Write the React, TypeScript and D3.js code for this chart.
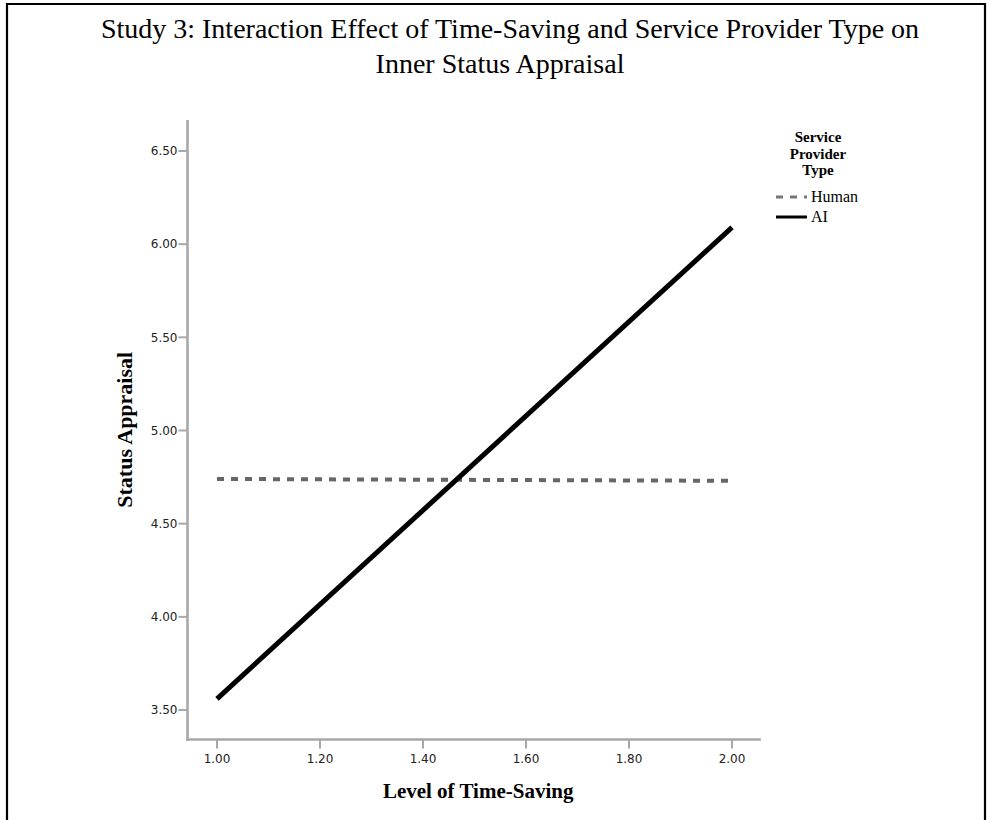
import React from "react";
import * as d3 from "d3";

// Series values at the two ends of the time-saving range
const levels = [1.0, 2.0];
const humanValues = [4.74, 4.73];
const aiValues = [3.56, 6.09];

const yTicks = [3.5, 4.0, 4.5, 5.0, 5.5, 6.0, 6.5];
const xTicks = [1.0, 1.2, 1.4, 1.6, 1.8, 2.0];

const titleLines = [
  "Study 3: Interaction Effect of Time-Saving and Service Provider Type on",
  "Inner Status Appraisal",
];
const legendTitle = ["Service", "Provider", "Type"];
const seriesNames = ["Human", "AI"];

const W = 987;
const H = 820;

export default function App() {
  const x = d3.scaleLinear().domain([1, 2]).range([217, 732]);
  const y = d3.scaleLinear().domain([3.5, 6.5]).range([710, 151]);

  const axisLeftX = 187.5;
  const axisBottomY = 739.5;
  const axisTop = y(6.666);
  const axisRight = x(2.056);

  const line = d3
    .line<[number, number]>()
    .x((d) => x(d[0]))
    .y((d) => y(d[1]));

  const humanPath = line(levels.map((l, i) => [l, humanValues[i]]) as [number, number][]);
  const aiPath = line(levels.map((l, i) => [l, aiValues[i]]) as [number, number][]);

  const serif = "'Liberation Serif', 'Times New Roman', serif";
  const sans = "'DejaVu Sans', Verdana, sans-serif";
  const axisGray = "#a8a8a8";

  return (
    <svg
      width={W}
      height={H}
      style={{ position: "absolute", left: 0, top: 0, background: "#fff" }}
    >
      <rect x={0} y={0} width={W} height={H} fill="#fff" />
      {/* frame */}
      <path d={`M7,${H} V4 H985 V${H}`} fill="none" stroke="#000" strokeWidth={2.2} />

      {/* title */}
      {titleLines.map((t, i) => (
        <text
          key={t}
          x={i === 0 ? 510 : 500}
          y={38 + i * 35}
          textAnchor="middle"
          fontFamily={serif}
          fontSize={28}
          fill="#000"
        >
          {t}
        </text>
      ))}

      {/* y axis */}
      <line x1={axisLeftX} x2={axisLeftX} y1={axisTop} y2={axisBottomY + 1.5} stroke={axisGray} strokeWidth={2.6} />
      {yTicks.map((v) => (
        <g key={v}>
          <line x1={axisLeftX - 9} x2={axisLeftX} y1={y(v)} y2={y(v)} stroke={axisGray} strokeWidth={2} />
          <text
            x={axisLeftX - 10}
            y={y(v)}
            dy="0.35em"
            textAnchor="end"
            fontFamily={sans}
            fontSize={12}
            fill="#222"
          >
            {v.toFixed(2)}
          </text>
        </g>
      ))}

      {/* x axis */}
      <line x1={axisLeftX - 1.3} x2={axisRight} y1={axisBottomY} y2={axisBottomY} stroke={axisGray} strokeWidth={2.6} />
      {xTicks.map((v) => (
        <g key={v}>
          <line x1={x(v)} x2={x(v)} y1={axisBottomY} y2={axisBottomY + 9} stroke={axisGray} strokeWidth={2} />
          <text
            x={x(v)}
            y={axisBottomY + 19}
            dy="0.35em"
            textAnchor="middle"
            fontFamily={sans}
            fontSize={12}
            fill="#222"
          >
            {v.toFixed(2)}
          </text>
        </g>
      ))}

      {/* axis titles */}
      <text
        x={(axisLeftX + axisRight) / 2 + 4}
        y={798}
        textAnchor="middle"
        fontFamily={serif}
        fontWeight="bold"
        fontSize={21}
        fill="#000"
      >
        Level of Time-Saving
      </text>
      <text
        transform={`translate(132, ${(axisTop + axisBottomY) / 2}) rotate(-90)`}
        textAnchor="middle"
        fontFamily={serif}
        fontWeight="bold"
        fontSize={22}
        fill="#000"
      >
        Status Appraisal
      </text>

      {/* series */}
      <path d={humanPath ?? ""} fill="none" stroke="#666" strokeWidth={4} strokeDasharray="7,7" />
      <path d={aiPath ?? ""} fill="none" stroke="#000" strokeWidth={5} />

      {/* legend */}
      {legendTitle.map((t, i) => (
        <text
          key={t}
          x={818}
          y={142 + i * 16.5}
          textAnchor="middle"
          fontFamily={serif}
          fontWeight="bold"
          fontSize={15}
          fill="#000"
        >
          {t}
        </text>
      ))}
      {seriesNames.map((name, i) => {
        const ly = 197 + i * 20;
        return (
          <g key={name}>
            <line
              x1={776}
              x2={807}
              y1={ly}
              y2={ly}
              stroke={i === 0 ? "#777" : "#000"}
              strokeWidth={3}
              strokeDasharray={i === 0 ? "7,7" : undefined}
            />
            <text x={811} y={ly + 5} fontFamily={serif} fontSize={16} fill="#000">
              {name}
            </text>
          </g>
        );
      })}
    </svg>
  );
}
